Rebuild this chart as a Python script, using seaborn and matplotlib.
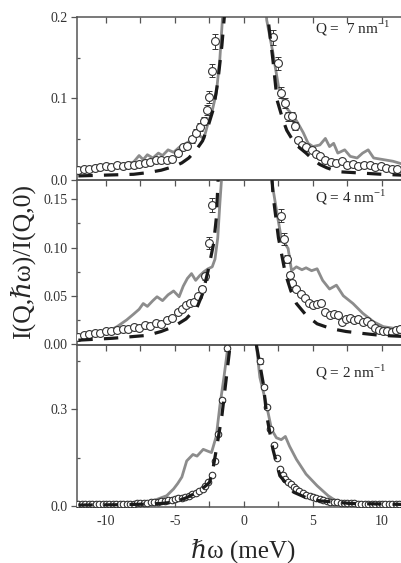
import matplotlib
matplotlib.use("Agg")
import matplotlib.pyplot as plt
import seaborn as sns

# ==============================
# DATA
# ==============================

# ---- Q = 7 nm-1 (top) ----
q7_x = [-12.0, -11.6, -11.2, -10.8, -10.4, -10.0, -9.6, -9.2, -8.8, -8.4,
        -8.0, -7.6, -7.2, -6.8, -6.4, -6.0, -5.6, -5.2, -4.8, -4.4,
        -4.1, -3.8, -3.5, -3.2, -2.9, -2.7, -2.55, -2.35, -2.1,
        2.1, 2.5, 2.7, 2.95, 3.2, 3.5, 3.7, 3.9, 4.2, 4.5,
        4.9, 5.2, 5.5, 5.9, 6.3, 6.7, 7.1, 7.5, 7.9, 8.3,
        8.7, 9.1, 9.5, 9.9, 10.3, 10.7, 11.1]
q7_y = [0.012, 0.014, 0.013, 0.015, 0.016, 0.017, 0.016, 0.018, 0.017, 0.019,
        0.018, 0.020, 0.021, 0.022, 0.024, 0.025, 0.024, 0.026, 0.033, 0.040,
        0.042, 0.050, 0.058, 0.065, 0.072, 0.086, 0.102, 0.134, 0.170,
        0.175, 0.143, 0.107, 0.094, 0.078, 0.078, 0.066, 0.049, 0.043, 0.040,
        0.037, 0.032, 0.029, 0.025, 0.022, 0.021, 0.023, 0.018, 0.020, 0.017,
        0.019, 0.018, 0.016, 0.017, 0.015, 0.014, 0.013]
q7_err = [0.002, 0.002, 0.002, 0.002, 0.002, 0.002, 0.002, 0.002, 0.002, 0.002,
          0.002, 0.002, 0.002, 0.002, 0.002, 0.002, 0.002, 0.002, 0.003, 0.003,
          0.003, 0.004, 0.004, 0.005, 0.005, 0.006, 0.007, 0.008, 0.009,
          0.009, 0.008, 0.007, 0.006, 0.006, 0.005, 0.005, 0.004, 0.004, 0.004,
          0.003, 0.003, 0.003, 0.003, 0.003, 0.003, 0.003, 0.003, 0.003, 0.003,
          0.003, 0.003, 0.003, 0.003, 0.003, 0.003, 0.003]
q7_sim_x = [-12.0, -11.5, -11.0, -10.5, -10.0, -9.5, -9.0, -8.5, -8.0, -7.6,
            -7.3, -7.0, -6.6, -6.2, -5.9, -5.5, -5.1, -4.7, -4.3, -3.9,
            -3.5, -3.2, -2.9, -2.6, -2.3, -2.0, -1.75, -1.55, -1.3, 0.0,
            1.3, 1.65, 2.1, 2.5, 3.0, 3.6, 3.9, 4.3, 4.65, 5.0,
            5.5, 5.9, 6.2, 6.5, 6.8, 7.3, 7.7, 8.2, 8.6, 9.0,
            9.4, 10.1, 10.8, 11.4]
q7_sim_y = [0.012, 0.014, 0.013, 0.016, 0.015, 0.018, 0.017, 0.020, 0.022, 0.030,
            0.025, 0.031, 0.027, 0.033, 0.030, 0.037, 0.034, 0.040, 0.044, 0.048,
            0.056, 0.054, 0.051, 0.070, 0.085, 0.107, 0.148, 0.200, 0.280, 1.0,
            0.280, 0.196, 0.156, 0.115, 0.090, 0.078, 0.070, 0.058, 0.045, 0.041,
            0.043, 0.051, 0.041, 0.045, 0.033, 0.037, 0.029, 0.027, 0.033, 0.037,
            0.027, 0.025, 0.023, 0.020]
q7_mod_x = [-12.0, -10.0, -8.0, -7.0, -6.0, -5.0, -4.5, -4.0, -3.5, -3.0,
            -2.6, -2.2, -1.9, -1.6, -1.4, -1.1, 0.0, 1.5, 1.8, 2.1,
            2.4, 2.8, 3.1, 3.6, 4.0, 4.5, 5.0, 5.5, 6.0, 6.5,
            7.0, 8.0, 9.0, 10.0, 11.4]
q7_mod_y = [0.005, 0.006, 0.007, 0.009, 0.012, 0.017, 0.021, 0.027, 0.036, 0.048,
            0.066, 0.088, 0.120, 0.165, 0.205, 0.300, 1.0, 0.260, 0.190, 0.147,
            0.098, 0.075, 0.061, 0.047, 0.040, 0.033, 0.025, 0.019, 0.015, 0.012,
            0.010, 0.009, 0.008, 0.007, 0.006]

# ---- Q = 4 nm-1 (middle) ----
q4_x = [-12.0, -11.6, -11.2, -10.8, -10.4, -10.0, -9.6, -9.2, -8.8, -8.4,
        -8.0, -7.6, -7.2, -6.8, -6.4, -6.0, -5.6, -5.2, -4.8, -4.5,
        -4.2, -3.9, -3.6, -3.3, -3.05, -2.8, -2.5, -2.3,
        2.7, 2.9, 3.15, 3.35, 3.5, 3.8, 4.1, 4.4, 4.7, 5.0,
        5.3, 5.6, 5.9, 6.2, 6.5, 6.8, 7.1, 7.4, 7.7, 8.0,
        8.3, 8.6, 8.9, 9.2, 9.5, 9.8, 10.1, 10.4, 10.7, 11.0, 11.3]
q4_y = [0.007, 0.009, 0.010, 0.011, 0.011, 0.013, 0.014, 0.015, 0.016, 0.016,
        0.018, 0.017, 0.020, 0.019, 0.022, 0.021, 0.025, 0.027, 0.033, 0.036,
        0.040, 0.043, 0.044, 0.050, 0.057, 0.070, 0.105, 0.144,
        0.133, 0.109, 0.088, 0.072, 0.063, 0.057, 0.052, 0.048, 0.043, 0.040,
        0.041, 0.043, 0.033, 0.030, 0.031, 0.030, 0.023, 0.026, 0.027, 0.025,
        0.026, 0.023, 0.024, 0.021, 0.017, 0.015, 0.013, 0.014, 0.012, 0.015, 0.016]
q4_err = [0.001, 0.001, 0.001, 0.001, 0.001, 0.001, 0.001, 0.001, 0.001, 0.001,
          0.001, 0.001, 0.001, 0.001, 0.001, 0.001, 0.002, 0.002, 0.002, 0.002,
          0.002, 0.002, 0.002, 0.002, 0.003, 0.004, 0.006, 0.007,
          0.007, 0.006, 0.004, 0.003, 0.003, 0.002, 0.002, 0.002, 0.002, 0.002,
          0.002, 0.002, 0.002, 0.002, 0.002, 0.001, 0.001, 0.001, 0.001, 0.001,
          0.001, 0.001, 0.001, 0.001, 0.001, 0.001, 0.001, 0.001, 0.001, 0.001, 0.001]
q4_sim_x = [-12.0, -11.0, -10.0, -9.2, -8.5, -8.0, -7.6, -7.3, -7.0, -6.6,
            -6.3, -5.9, -5.5, -5.1, -4.7, -4.4, -4.1, -3.8, -3.5, -3.2,
            -2.9, -2.6, -2.3, -2.1, -1.9, -1.75, -1.62, -1.3, 0.0,
            1.4, 2.0, 2.4, 2.7, 3.2, 3.45, 3.8, 4.2, 4.5, 4.9,
            5.3, 5.7, 6.2, 6.7, 7.2, 7.9, 8.6, 9.4, 10.1, 11.0, 11.4]
q4_sim_y = [0.006, 0.009, 0.012, 0.018, 0.025, 0.031, 0.036, 0.042, 0.039, 0.045,
            0.049, 0.045, 0.051, 0.055, 0.049, 0.060, 0.068, 0.073, 0.066, 0.071,
            0.075, 0.078, 0.080, 0.088, 0.110, 0.145, 0.172, 0.260, 1.0,
            0.260, 0.170, 0.135, 0.110, 0.099, 0.076, 0.080, 0.077, 0.079, 0.076,
            0.078, 0.066, 0.057, 0.061, 0.050, 0.042, 0.032, 0.023, 0.018, 0.016, 0.015]
q4_mod_x = [-12.0, -9.5, -7.0, -6.0, -5.1, -4.2, -3.4, -3.0, -2.6, -2.2,
            -2.0, -1.9, -1.6, 0.0, 1.8, 2.1, 2.5, 3.0, 3.4, 3.8,
            4.5, 5.3, 6.3, 7.4, 8.6, 9.9, 11.4]
q4_mod_y = [0.004, 0.006, 0.009, 0.013, 0.018, 0.026, 0.038, 0.052, 0.076, 0.104,
            0.131, 0.162, 0.250, 1.0, 0.230, 0.155, 0.110, 0.073, 0.055, 0.042,
            0.030, 0.021, 0.016, 0.013, 0.011, 0.009, 0.008]

# ---- Q = 2 nm-1 (bottom) ----
q2_x = [-12.0, -11.75, -11.5, -11.25, -11.0, -10.75, -10.5, -10.25, -10.0,
        -9.75, -9.5, -9.25, -9.0, -8.75, -8.5, -8.25, -8.0,
        -7.75, -7.5, -7.25, -7.0, -6.75, -6.5, -6.25, -6.0,
        -5.75, -5.5, -5.25, -5.0, -4.75, -4.5, -4.25, -4.0,
        -3.75, -3.5, -3.25, -3.0, -2.8, -2.6, -2.35, -2.1, -1.9, -1.6, -1.25,
        1.15, 1.45, 1.7, 1.9, 2.2, 2.4, 2.6, 2.8, 3.0, 3.2,
        3.4, 3.6, 3.8, 4.0, 4.25, 4.5, 4.75, 5.0, 5.25, 5.5,
        5.75, 6.0, 6.25, 6.5, 6.75, 7.0, 7.25, 7.5, 7.75, 8.0,
        8.25, 8.5, 8.75, 9.0, 9.25, 9.5, 9.75, 10.0, 10.25, 10.5,
        10.75, 11.0, 11.25]
q2_y = [0.005, 0.006, 0.005, 0.005, 0.006, 0.005, 0.006, 0.006, 0.005,
        0.006, 0.006, 0.007, 0.006, 0.006, 0.007, 0.006, 0.007,
        0.008, 0.008, 0.009, 0.010, 0.011, 0.012, 0.014, 0.015,
        0.017, 0.018, 0.020, 0.022, 0.024, 0.026, 0.029, 0.032,
        0.036, 0.040, 0.046, 0.053, 0.062, 0.074, 0.096, 0.140, 0.223, 0.330, 0.490,
        0.450, 0.370, 0.306, 0.240, 0.190, 0.150, 0.115, 0.095, 0.085, 0.076,
        0.068, 0.060, 0.053, 0.047, 0.041, 0.035, 0.031, 0.027, 0.024, 0.021,
        0.018, 0.016, 0.014, 0.013, 0.011, 0.010, 0.009, 0.009, 0.008, 0.008,
        0.007, 0.007, 0.006, 0.006, 0.006, 0.005, 0.006, 0.005, 0.005, 0.006,
        0.005, 0.005, 0.005]
q2_err = [0.002, 0.002, 0.002, 0.002, 0.002, 0.002, 0.002, 0.002, 0.002,
          0.002, 0.002, 0.002, 0.002, 0.002, 0.002, 0.002, 0.002,
          0.002, 0.002, 0.002, 0.002, 0.002, 0.002, 0.002, 0.002,
          0.002, 0.002, 0.002, 0.002, 0.002, 0.002, 0.002, 0.002,
          0.002, 0.002, 0.002, 0.002, 0.003, 0.003, 0.003, 0.004, 0.005, 0.006, 0.010,
          0.009, 0.007, 0.006, 0.005, 0.004, 0.004, 0.003, 0.003, 0.002, 0.002,
          0.002, 0.002, 0.002, 0.002, 0.002, 0.002, 0.002, 0.002, 0.002, 0.002,
          0.002, 0.002, 0.002, 0.002, 0.002, 0.002, 0.002, 0.002, 0.002, 0.002,
          0.002, 0.002, 0.002, 0.002, 0.002, 0.002, 0.002, 0.002, 0.002, 0.002,
          0.002, 0.002, 0.002]
q2_sim_x = [-12.0, -10.0, -8.0, -7.0, -6.6, -6.1, -5.6, -5.1, -4.8, -4.5,
            -4.15, -3.7, -3.4, -2.95, -2.6, -2.35, -2.0, -1.75, -1.45, -1.15,
            0.0, 0.9, 1.15, 1.65, 2.0, 2.35, 2.7, 3.0, 3.3, 3.8,
            4.5, 5.3, 6.1, 6.7, 7.2, 8.0, 9.5, 11.4]
q2_sim_y = [0.003, 0.003, 0.004, 0.008, 0.016, 0.024, 0.032, 0.053, 0.070, 0.090,
            0.140, 0.160, 0.155, 0.176, 0.170, 0.166, 0.218, 0.310, 0.400, 0.500,
            1.5, 0.500, 0.400, 0.310, 0.238, 0.212, 0.206, 0.216, 0.186, 0.145,
            0.099, 0.063, 0.032, 0.015, 0.007, 0.004, 0.003, 0.003]
q2_mod_x = [-12.0, -9.0, -7.0, -6.0, -5.1, -4.2, -3.2, -2.5, -2.25, -2.0,
            -1.6, -1.3, -1.0, 0.0, 0.9, 1.15, 1.4, 1.65, 2.1, 2.6,
            3.6, 4.5, 5.5, 7.7, 11.4]
q2_mod_y = [0.003, 0.004, 0.006, 0.008, 0.012, 0.025, 0.047, 0.073, 0.115, 0.176,
            0.280, 0.390, 0.500, 1.5, 0.500, 0.440, 0.380, 0.280, 0.176, 0.094,
            0.043, 0.026, 0.016, 0.008, 0.005]

q_labels = ["Q =  7 nm$^{\\mathregular{-1}}$", "Q = 4 nm$^{\\mathregular{-1}}$",
            "Q = 2 nm$^{\\mathregular{-1}}$"]
x_ticks = [-10, -5, 0, 5, 10]
x_tick_labels = ["-10", "-5", "0", "5", "10"]
x_minor = [-7.5, -2.5, 2.5, 7.5]

# ==============================
# STYLE
# ==============================
sns.set_theme(style="ticks")
plt.rcParams["font.family"] = ["Liberation Serif", "DejaVu Serif"]
plt.rcParams["axes.edgecolor"] = "#555555"

fig = plt.figure(figsize=(4.01, 5.63), dpi=100)

left, width = 0.192, 0.808
ax_top = fig.add_axes([left, 0.6803, width, 0.2895])
ax_mid = fig.add_axes([left, 0.3872, width, 0.2931])
ax_bot = fig.add_axes([left, 0.0995, width, 0.2877])


def draw_panel(ax, cx, cy, cerr, gx, gy, dx, dy, msize):
    sns.lineplot(x=gx, y=gy, ax=ax, color="#8c8c8c", lw=2.0,
                 estimator=None, sort=False, zorder=2)
    sns.lineplot(x=dx, y=dy, ax=ax, color="#1a1a1a", lw=2.3,
                 estimator=None, sort=False, zorder=5)
    ax.lines[-1].set_dashes([4.5, 3.5])
    ax.errorbar(cx, cy, yerr=cerr, fmt="none", ecolor="#333333",
                elinewidth=0.7, capsize=2, capthick=0.7, zorder=3)
    sns.scatterplot(x=cx, y=cy, ax=ax, marker="o", s=msize, facecolor="white",
                    edgecolor="#333333", linewidth=0.8, zorder=4)


draw_panel(ax_top, q7_x, q7_y, q7_err, q7_sim_x, q7_sim_y, q7_mod_x, q7_mod_y, 32)
draw_panel(ax_mid, q4_x, q4_y, q4_err, q4_sim_x, q4_sim_y, q4_mod_x, q4_mod_y, 32)
draw_panel(ax_bot, q2_x, q2_y, q2_err, q2_sim_x, q2_sim_y, q2_mod_x, q2_mod_y, 22)

ax_top.set_ylim(0, 0.2)
ax_top.set_yticks([0, 0.1, 0.2], ["0.0", "0.1", "0.2"])
ax_top.set_yticks([0.05, 0.15], minor=True)

ax_mid.set_ylim(-0.001, 0.17)
ax_mid.set_yticks([0, 0.05, 0.10, 0.15], ["0.00", "0.05", "0.10", "0.15"])
ax_mid.set_yticks([0.025, 0.075, 0.125], minor=True)

ax_bot.set_ylim(-0.003, 0.5)
ax_bot.set_yticks([0, 0.3], ["0.0", "0.3"])
ax_bot.set_yticks([0.15, 0.45], minor=True)

for ax in [ax_top, ax_mid, ax_bot]:
    is_bottom = ax is ax_bot
    ax.set_xlim(-12.1, 11.38)
    ax.set_xticks(x_ticks, x_tick_labels)
    ax.set_xticks(x_minor, minor=True)
    ax.set_xlabel("")
    ax.set_ylabel("")
    ax.spines["right"].set_visible(False)
    for s in ["left", "top", "bottom"]:
        ax.spines[s].set_linewidth(1.1)
        ax.spines[s].set_color("#555555")
    ax.tick_params(axis="x", which="both", direction="in", top=True,
                   bottom=is_bottom, labelbottom=is_bottom, length=4,
                   width=0.9, color="#555555", labelsize=10,
                   labelcolor="#333333", pad=6)
    ax.tick_params(axis="y", which="major", direction="out", length=4.5,
                   width=0.9, color="#555555", labelsize=10,
                   labelcolor="#333333", pad=2)
    ax.tick_params(axis="y", which="minor", direction="in", length=2.5,
                   width=0.9, color="#555555")
    ax.set_facecolor("none")

ax_top.text(0.735, 0.93, q_labels[0], transform=ax_top.transAxes,
            fontsize=11, va="center", ha="left")
ax_mid.text(0.735, 0.897, q_labels[1], transform=ax_mid.transAxes,
            fontsize=11, va="center", ha="left")
ax_bot.text(0.735, 0.833, q_labels[2], transform=ax_bot.transAxes,
            fontsize=11, va="center", ha="left")

fig.text(0.055, 0.535, "I(Q,\u210f\u03c9)/I(Q,0)", rotation=90, fontsize=18.5,
         ha="center", va="center")
fig.text(0.606, 0.021, "\u210f\u03c9 (meV)", fontsize=18, ha="center",
         va="center")

fig.savefig("out.png", dpi=100)
